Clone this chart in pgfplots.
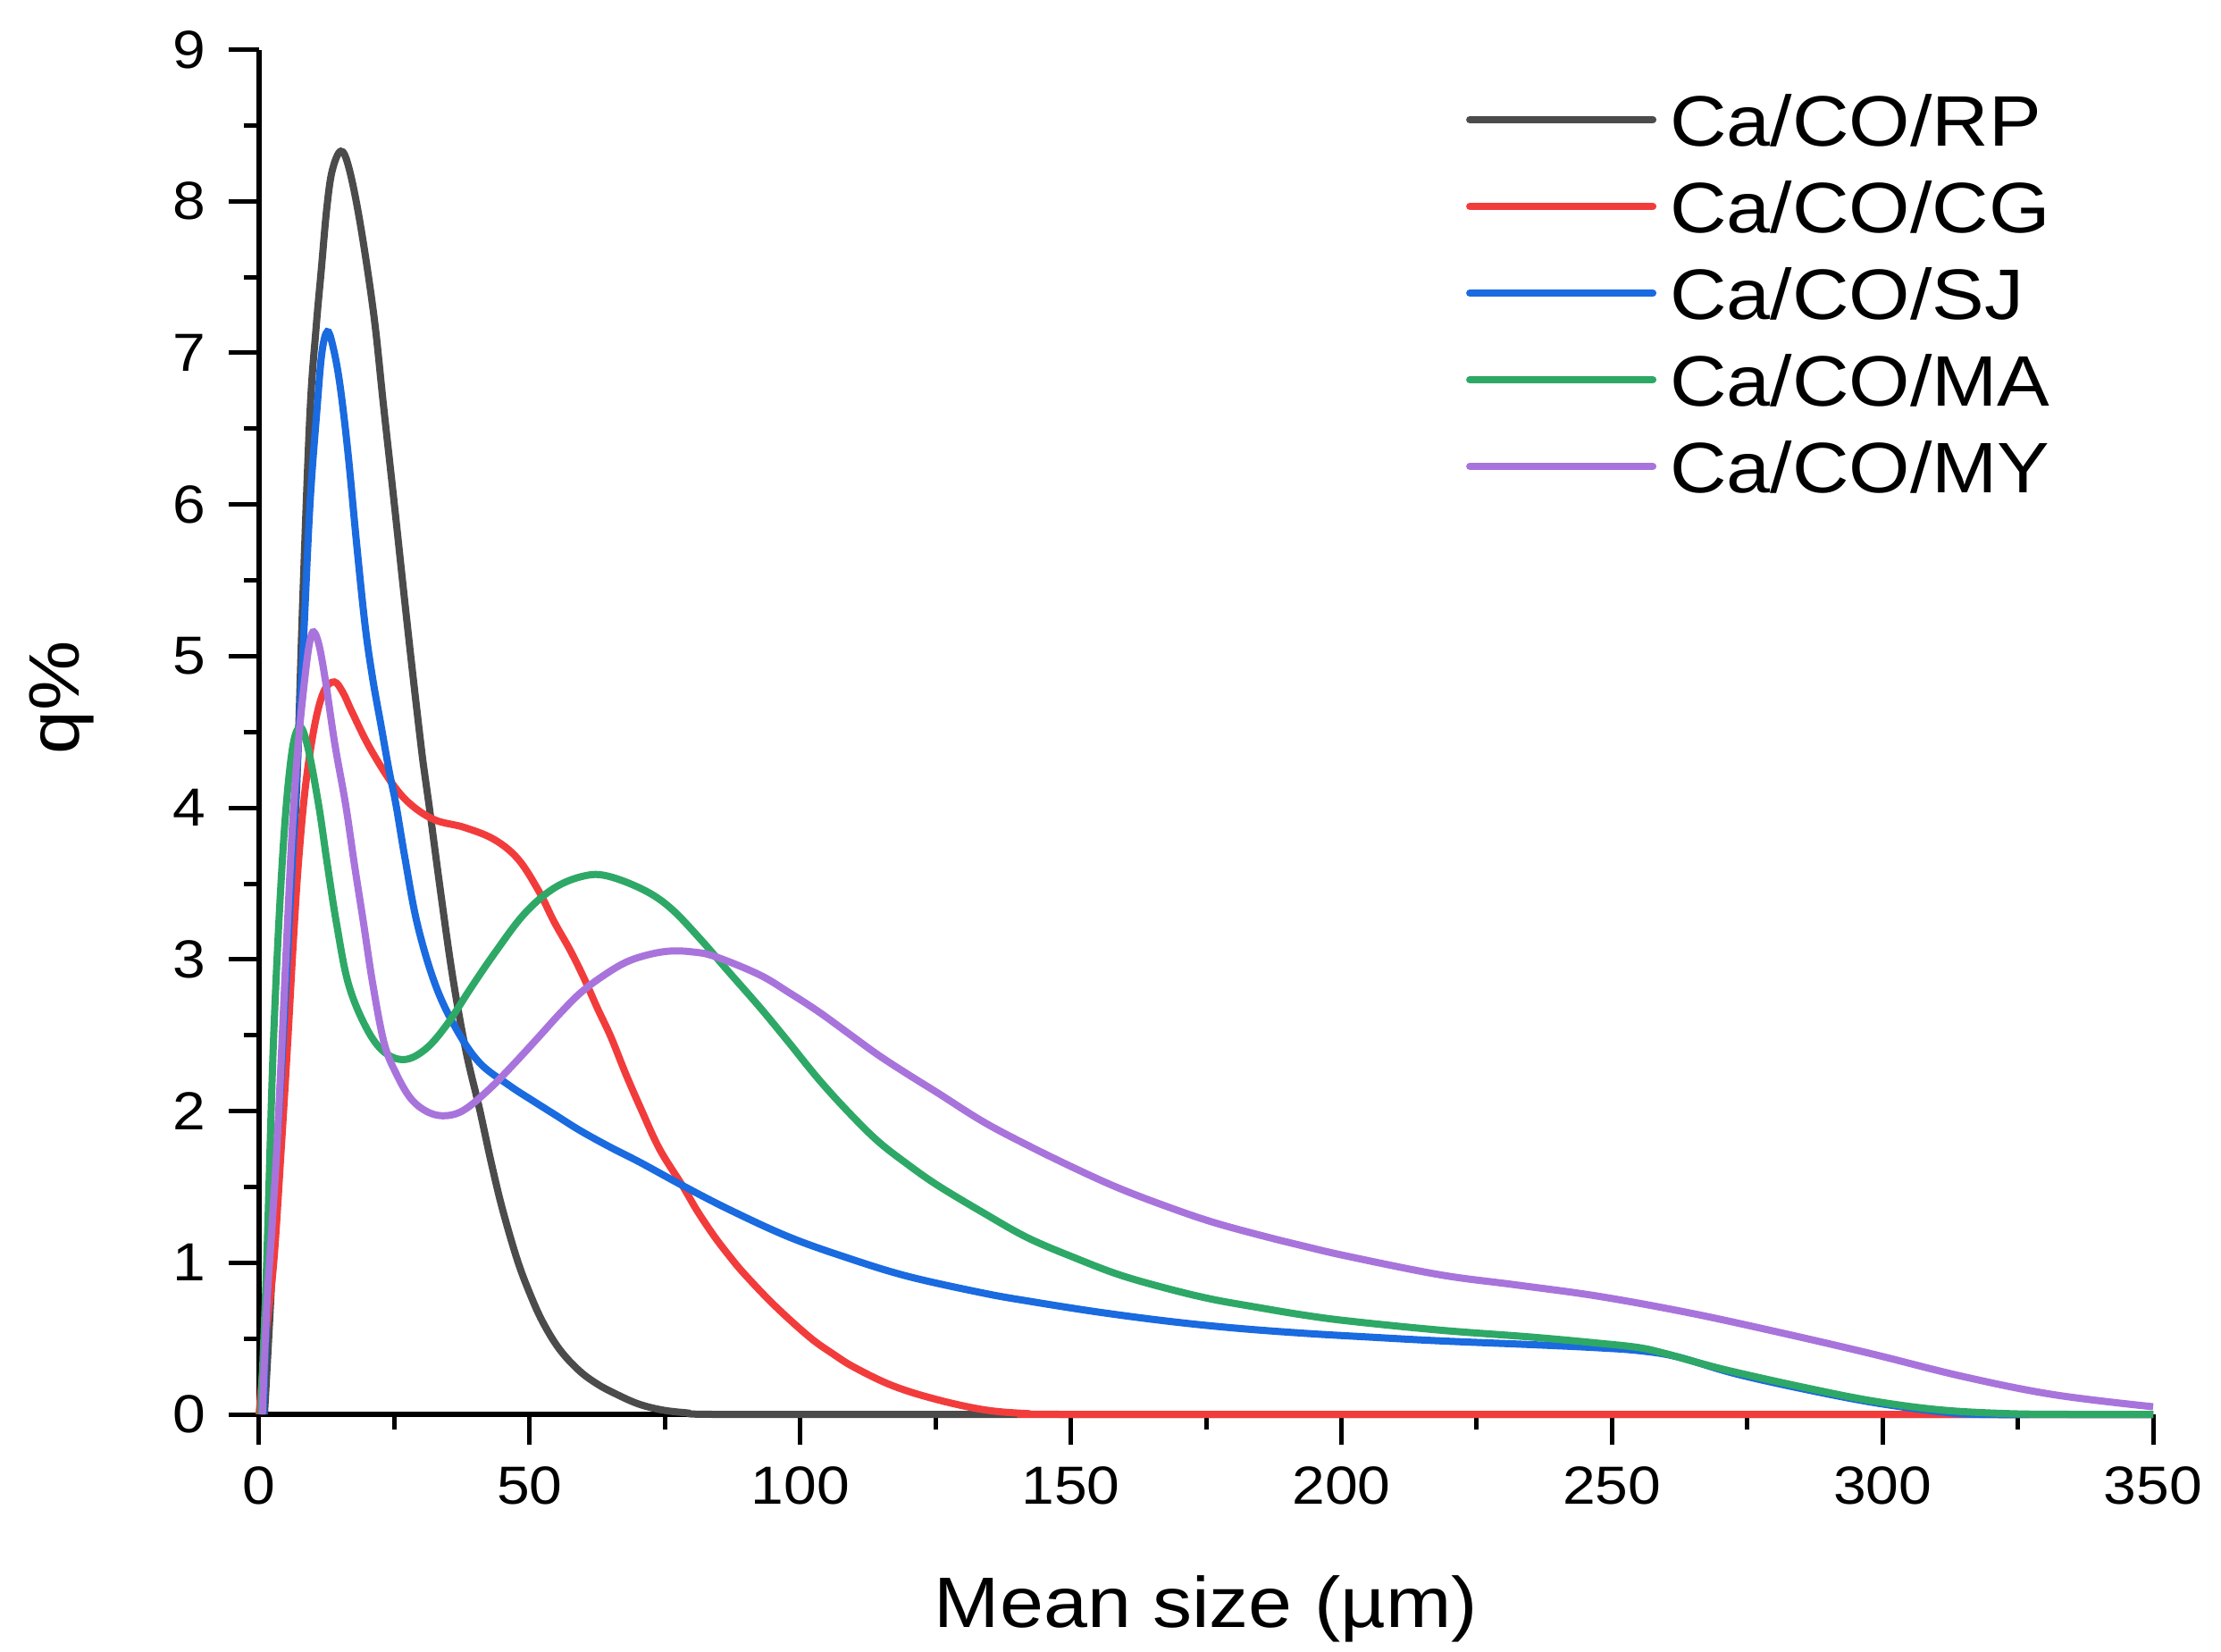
\documentclass[border=0pt]{standalone}
\usepackage{fontspec}
\setmainfont{Liberation Sans}[FakeStretch=1.1]
\usepackage{pgfplots}
\pgfplotsset{compat=1.18}
\definecolor{cRP}{RGB}{75,75,75}
\definecolor{cCG}{RGB}{242,60,60}
\definecolor{cSJ}{RGB}{26,106,224}
\definecolor{cMA}{RGB}{46,168,102}
\definecolor{cMY}{RGB}{168,116,220}
\newcommand\tickfont{\fontsize{12}{14}\selectfont}
\newcommand\labfont{\fontsize{16}{19}\selectfont}
\begin{document}
\begin{tikzpicture}
\begin{axis}[
  at={(0,0)}, anchor=south west,
  width=424pt, height=305.5pt, scale only axis,
  xmin=0, xmax=350, ymin=0, ymax=9,
  axis lines*=left,
  axis line style={line width=1.1pt},
  clip=false,
  xtick={0,50,...,350}, ytick={0,1,...,9},
  minor x tick num=1, minor y tick num=1,
  tick align=outside,
  major tick length=6.8pt, minor tick length=3.4pt,
  tick style={line width=1.0pt, black},
  /pgf/number format/assume math mode=true,
  ticklabel style={font=\tickfont, inner sep=0pt},
  xticklabel style={anchor=north},
  yticklabel style={anchor=east},
  xticklabel shift=4.8pt, yticklabel shift=5pt,
  xlabel={Mean size (µm)}, ylabel={q\%},
  every axis x label/.style={at={(axis description cs:0.5,0)}, anchor=base, yshift=-47.6pt, font=\labfont},
  every axis y label/.style={at={(axis description cs:0,0.525)}, xshift=-44.2pt, rotate=90, anchor=center, font=\labfont},
  legend style={at={(axis description cs:0.6373,0.9676)}, anchor=north west, draw=none, fill=none,
    inner sep=0pt, outer sep=0pt, row sep=7.8pt, font=\labfont,
    nodes={inner sep=0pt, text height=11.6pt, text depth=0pt}},
  /tikz/every odd column/.append style={column sep=3pt},
  legend cell align=left,
  legend image code/.code={\draw[#1, line cap=round] (0pt,0pt) -- (41pt,0pt);},
  every axis plot/.append style={line width=1.6pt, smooth, tension=0.6, no markers},
]
\addplot[cRP] coordinates {
(1,0) (2.5,1.0) (4,2.2) (5.5,3.2) (6.9,4.1) (8.1,5.4) (9.4,6.6) (10.5,7.15) (11.5,7.55) (12.5,7.95)
(13.5,8.2) (15.1,8.33) (16.6,8.22) (18.7,7.85) (21.2,7.25) (23,6.65) (25,6.0) (26.8,5.4) (28.5,4.85)
(30.3,4.3) (31.4,4.02) (33.6,3.43) (35.8,2.88) (38.2,2.4) (40.7,2.02) (42.9,1.66) (45,1.35)
(47.7,1.02) (50,0.80) (52.4,0.61) (55.5,0.43) (59.1,0.29) (62.5,0.2) (65.9,0.135) (70,0.07)
(74.3,0.03) (79,0.01) (84,0) (120,0) (200,0) (350,0)};
\addlegendentry{Ca/CO/RP}
\addplot[cCG] coordinates {
(0,0) (1.2,0.5) (2.7,1.0) (4,1.7) (5.2,2.4) (6.3,3.1) (7.3,3.65) (8.6,4.15) (10.3,4.55) (12,4.77)
(13.9,4.83) (15.5,4.76) (17.2,4.63) (20.4,4.4) (24.6,4.16) (28.1,4.02) (32.5,3.92) (38,3.87)
(43.5,3.79) (47.9,3.66) (51.7,3.45) (54.5,3.25) (57.5,3.06) (60,2.88) (62.5,2.68) (65,2.49)
(67.7,2.25) (70.5,2.02) (74,1.75) (78.2,1.51) (81,1.34) (84.2,1.17) (87,1.04) (89.7,0.925)
(95.2,0.72) (101.7,0.51) (106,0.40) (110,0.31) (117,0.19) (125,0.1) (134,0.03) (142,0.005)
(150,0) (250,0) (350,0)};
\addlegendentry{Ca/CO/CG}
\addplot[cSJ] coordinates {
(0.8,0) (1.8,1.0) (3.7,2.0) (5.2,3.0) (6.8,4.1) (8.2,5.1) (9.4,6.0) (10.7,6.63) (11.6,7.0)
(12.6,7.14) (13.6,7.05) (14.9,6.8) (16.4,6.35) (18,5.75) (19.6,5.2) (21,4.85) (22.5,4.55)
(24,4.25) (25.3,4.02) (26.9,3.68) (29.2,3.24) (32.5,2.84) (36.3,2.55) (40.7,2.32) (46.2,2.17)
(50.5,2.07) (54.5,1.98) (59.4,1.87) (65,1.76) (70.5,1.66) (78.2,1.51) (86.9,1.35) (97.9,1.17)
(108.9,1.03) (119.9,0.91) (133.8,0.8) (142.5,0.745) (155,0.675) (167.8,0.615) (180,0.57)
(193,0.535) (205,0.51) (218,0.485) (235,0.46) (247,0.44) (255,0.42) (262,0.38) (272.6,0.27)
(285,0.17) (298,0.08) (310,0.02) (318,0) (335,0) (350,0)};
\addlegendentry{Ca/CO/SJ}
\addplot[cMA] coordinates {
(0.3,0) (1.4,1.0) (2.7,2.5) (4.4,3.71) (6,4.35) (7.5,4.53) (9,4.4) (11,4.02) (12.6,3.63)
(14.3,3.24) (16.5,2.84) (19.8,2.55) (23.1,2.39) (26.9,2.34) (30.8,2.41) (34.7,2.57) (39.1,2.81)
(43.5,3.04) (49,3.3) (54.5,3.47) (60,3.55) (64.4,3.55) (71,3.46) (76,3.34) (81.4,3.14)
(86.5,2.93) (92.4,2.69) (97.5,2.47) (103.4,2.21) (109,1.99) (114.4,1.80) (119.8,1.65)
(125.4,1.51) (133.8,1.33) (142,1.165) (150.9,1.03) (159,0.92) (167.8,0.83) (176,0.76)
(184.6,0.705) (193,0.655) (201.5,0.615) (218.3,0.555) (235,0.51) (247.3,0.47) (255,0.44)
(260,0.40) (266,0.34) (272.6,0.28) (285.2,0.18) (297.9,0.09) (310.5,0.03) (323,0.005) (335,0) (350,0)};
\addlegendentry{Ca/CO/MA}
\addplot[cMY] coordinates {
(0.6,0) (1.4,0.7) (2.5,1.3) (3.5,1.9) (5.2,3.2) (6.2,3.9) (7.3,4.45) (8.6,4.9) (9.4,5.1)
(10.1,5.16) (11.1,5.07) (12.3,4.83) (14,4.42) (16,4.02) (17.6,3.63) (19.3,3.24) (21,2.84)
(23.1,2.45) (25.3,2.25) (28.1,2.08) (31.4,1.99) (34.7,1.97) (38,2.01) (42.4,2.14) (46.8,2.3)
(51.7,2.49) (55.5,2.64) (59.4,2.78) (63.5,2.89) (67.7,2.98) (71.8,3.03) (75.9,3.055) (80,3.05)
(84.2,3.02) (92.4,2.90) (98,2.78) (103.4,2.655) (109,2.51) (114.4,2.37) (120,2.24) (125.4,2.12)
(133.8,1.93) (142,1.775) (150.9,1.62) (159,1.49) (167.8,1.37) (176,1.27) (184.6,1.185)
(193,1.11) (201.5,1.04) (218.3,0.92) (232,0.855) (247.3,0.78) (264.2,0.67) (281,0.54)
(297.9,0.40) (314.8,0.25) (331.6,0.13) (350,0.05)};
\addlegendentry{Ca/CO/MY}
\end{axis}
\pgfresetboundingbox
\path[use as bounding box] (-58pt,-53pt) rectangle (439.2pt,316.6pt);
\end{tikzpicture}
\end{document}
